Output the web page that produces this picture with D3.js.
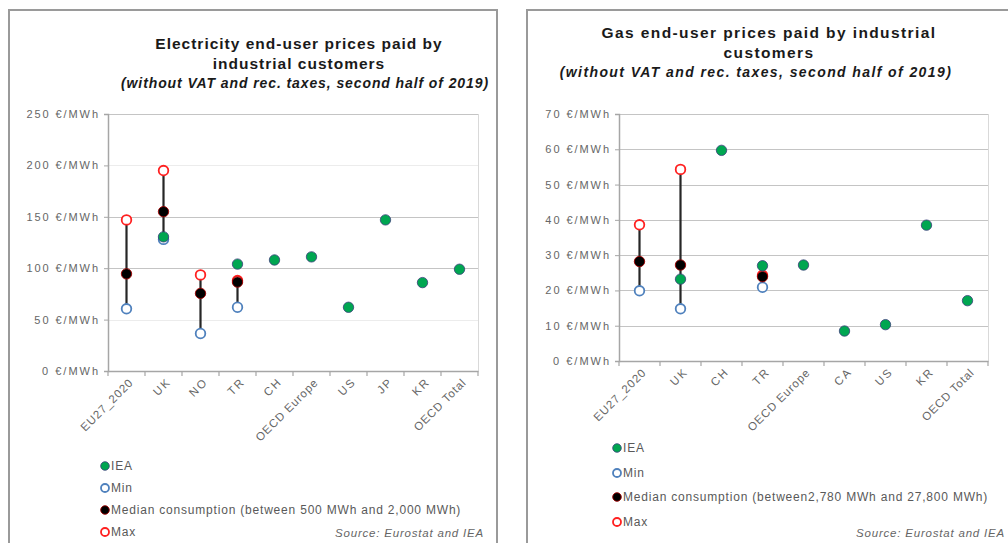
<!DOCTYPE html>
<html><head><meta charset="utf-8">
<script src="https://cdn.jsdelivr.net/npm/d3@7"></script>
<style>
body{margin:0;background:#fff;}
svg{display:block;font-family:"Liberation Sans",Arial,sans-serif;}
</style></head>
<body><svg id="c" width="1008" height="543"></svg>
<script>
// ---- Electricity data ----
const elecCategories = ["EU27_2020","UK","NO","TR","CH","OECD Europe","US","JP","KR","OECD Total"];
const elecIEA    = [null, 130.5, null, 104, 108, 111, 62, 147, 86, 99];
const elecMin    = [60.5, 128, 36.5, 62, null, null, null, null, null, null];
const elecMedian = [94.5, 155, 75.5, 86.5, null, null, null, null, null, null];
const elecMax    = [147, 195, 93.5, 88, null, null, null, null, null, null];
const elecTicks  = [0, 50, 100, 150, 200, 250];

// ---- Gas data ----
const gasCategories = ["EU27_2020","UK","CH","TR","OECD Europe","CA","US","KR","OECD Total"];
const gasIEA    = [null, 23.2, 59.7, 27, 27.2, 8.5, 10.3, 38.5, 17.1];
const gasMin    = [19.9, 14.8, null, 20.9, null, null, null, null, null];
const gasMedian = [28.2, 27.2, null, 23.9, null, null, null, null, null];
const gasMax    = [38.6, 54.3, null, 24.3, null, null, null, null, null];
const gasTicks  = [0, 10, 20, 30, 40, 50, 60, 70];

const svg = d3.select("#c");
const GRAY = "#595959";

// widen text to mimic the reference's wide rendering
function stretch(sel, ratio){
  sel.each(function(){
    const w = this.getComputedTextLength();
    d3.select(this).attr("textLength", w*ratio).attr("lengthAdjust","spacing");
  });
}

function drawPanel(o){
  const g = svg.append("g");
  g.append("path").attr("d",o.border).attr("fill","none").attr("stroke","#9a9a9a").attr("stroke-width",2);
  o.titles.forEach(t=>{
    g.append("text").attr("x",t.x).attr("y",t.y).attr("text-anchor","middle")
      .attr("font-size",t.size).attr("font-weight","bold").attr("font-style",t.italic?"italic":"normal")
      .attr("letter-spacing",t.ls).attr("fill","#1a1a1a").text(t.text);
  });
  const x = d3.scaleBand().domain(o.cats).range([o.x0,o.x1]);
  const y = d3.scaleLinear().domain([0,o.ymax]).range([o.y0,o.y1]);
  // gridlines
  g.append("g").selectAll("line").data(o.ticks.filter(d=>d>0)).join("line")
    .attr("x1",o.x0).attr("x2",o.x1).attr("y1",d=>Math.round(y(d))+0.5).attr("y2",d=>Math.round(y(d))+0.5)
    .attr("stroke",d=>o.faint.includes(d)?"#ececec":"#c4c4c4").attr("stroke-width",1);
  g.append("line").attr("x1",o.x1+0.5).attr("x2",o.x1+0.5).attr("y1",o.y1).attr("y2",o.y0).attr("stroke","#d9d9d9");
  // y axis
  const ya = g.append("g").attr("transform",`translate(${o.x0},0)`)
    .call(d3.axisLeft(y).tickValues(o.ticks).tickSize(4).tickPadding(6).tickFormat(d=>d+" €/MWh"));
  ya.select(".domain").attr("stroke","#a6a6a6").attr("stroke-width",1.5);
  ya.selectAll(".tick line").attr("stroke","#a6a6a6");
  ya.selectAll("text").attr("font-size",11).attr("fill","#666")
    .attr("font-family","\"Liberation Sans\",Arial,sans-serif").call(stretch,1.27);
  // x axis
  const xa = g.append("g").attr("transform",`translate(0,${o.y0})`)
    .call(d3.axisBottom(x).tickSize(0).tickFormat(""));
  xa.select(".domain").attr("stroke","#a6a6a6").attr("stroke-width",1.5);
  const bounds = o.cats.map(c=>x(c)).concat([o.x1]);
  g.append("g").selectAll("line").data(bounds).join("line")
    .attr("x1",d=>d).attr("x2",d=>d).attr("y1",o.y0).attr("y2",o.y0+5).attr("stroke","#a6a6a6").attr("stroke-width",1.2);
  g.append("g").selectAll("text").data(o.cats).join("text")
    .attr("transform",d=>`translate(${x(d)+x.bandwidth()/2+4},${o.y0+10}) rotate(-45)`)
    .attr("text-anchor","end").attr("dy","0.35em").attr("font-size",11.5)
    .attr("fill","#666").text(d=>d).call(stretch,1.12);
  const cx = i=>x(o.cats[i])+x.bandwidth()/2;
  const idx = o.cats.map((c,i)=>i);
  // range lines
  g.append("g").selectAll("line").data(idx.filter(i=>o.min[i]!=null)).join("line")
    .attr("x1",cx).attr("x2",cx).attr("y1",i=>y(o.min[i])).attr("y2",i=>y(o.max[i]))
    .attr("stroke","#262626").attr("stroke-width",2.2);
  const mk = {
    iea:   s=>s.attr("fill","#00a651").attr("stroke","#3a3f7a").attr("stroke-width",0.8),
    min:   s=>s.attr("fill","#fff").attr("stroke","#4f81bd").attr("stroke-width",1.8),
    med:   s=>s.attr("fill","#000").attr("stroke","#a00000").attr("stroke-width",0.9),
    max:   s=>s.attr("fill","#fff").attr("stroke","#ff2020").attr("stroke-width",1.8)
  };
  const series = [["min",o.min],["max",o.max],["med",o.median],["iea",o.iea]];
  series.forEach(([k,arr])=>{
    g.append("g").selectAll("circle").data(idx.filter(i=>arr[i]!=null)).join("circle")
      .attr("cx",cx).attr("cy",i=>y(arr[i])).attr("r",k==="min"||k==="max"?4.8:5.2).call(mk[k]);
  });
  // legend
  const leg = [["iea","IEA"],["min","Min"],["med",o.medLabel],["max","Max"]];
  leg.forEach(([k,t],j)=>{
    const ly = o.legY[j];
    g.append("circle").attr("cx",o.legX).attr("cy",ly).attr("r",k==="min"||k==="max"?4:4.3).call(mk[k]);
    g.append("text").attr("x",o.legX+6).attr("y",ly).attr("dy","0.36em").attr("font-size",12)
      .attr("letter-spacing",o.legLS).attr("fill",GRAY).text(t);
  });
  g.append("text").attr("x",o.srcX).attr("y",533).attr("dy","0.35em").attr("text-anchor","end")
    .attr("font-size",11.5).attr("letter-spacing",0.8).attr("font-style","italic").attr("fill","#666")
    .text("Source: Eurostat and IEA");
}

drawPanel({
  border:"M9,545 V10 H497 V545",
  titles:[{x:299,y:48.5,size:15.5,ls:1,text:"Electricity end-user prices paid by"},
          {x:299,y:68.5,size:15.5,ls:1,text:"industrial customers"},
          {x:305,y:88,size:14,ls:0.9,italic:true,text:"(without VAT and rec. taxes, second half of 2019)"}],
  cats:elecCategories, iea:elecIEA, min:elecMin, median:elecMedian, max:elecMax,
  ticks:elecTicks, ymax:250, x0:108, x1:478, y0:371, y1:114, faint:[50,200],
  legX:105, legY:[466,488,510,532], legLS:0.8,
  medLabel:"Median consumption (between 500 MWh and 2,000 MWh)", srcX:484
});
drawPanel({
  border:"M527,545 V10 H1010",
  titles:[{x:769,y:37.5,size:15.5,ls:1.4,text:"Gas end-user prices paid by industrial"},
          {x:769,y:57.5,size:15.5,ls:1.4,text:"customers"},
          {x:756,y:77,size:14,ls:1.4,italic:true,text:"(without VAT and rec. taxes, second half of 2019)"}],
  cats:gasCategories, iea:gasIEA, min:gasMin, median:gasMedian, max:gasMax,
  ticks:gasTicks, ymax:70, x0:619, x1:988, y0:361, y1:114, faint:[],
  legX:617, legY:[448,473,497,522], legLS:0.8,
  medLabel:"Median consumption (between2,780 MWh and 27,800 MWh)", srcX:1005
});
</script></body></html>
